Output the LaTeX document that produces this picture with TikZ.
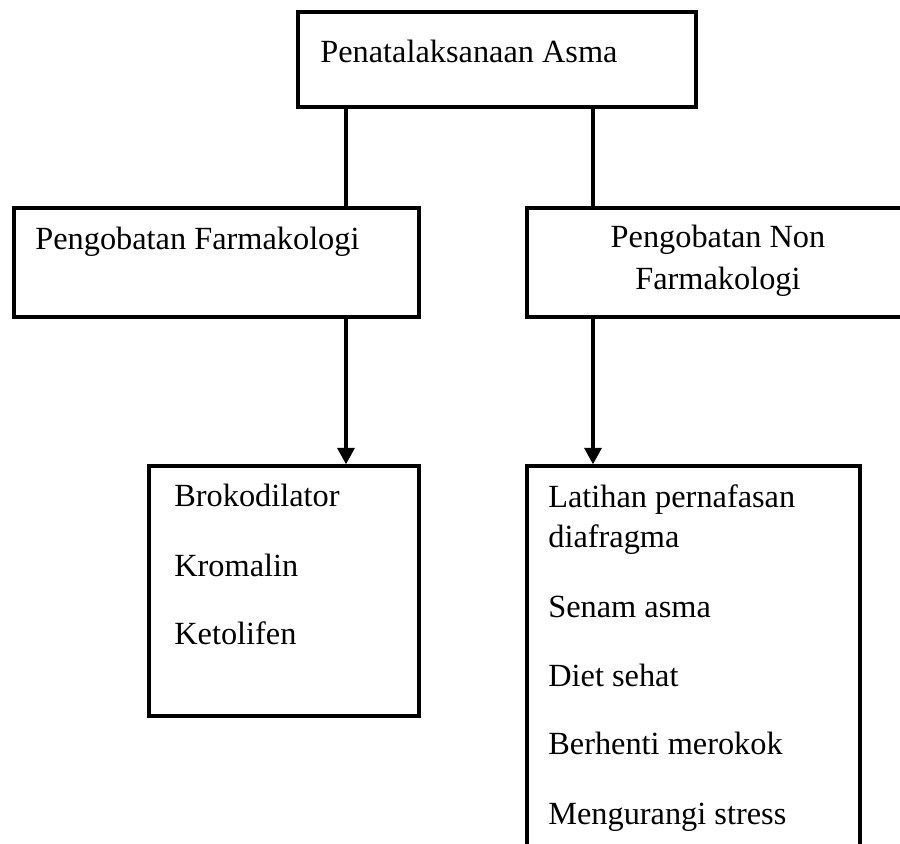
\documentclass[tikz,border=0pt]{standalone}
\usepackage{fontspec}
\setmainfont{Liberation Serif}
\usetikzlibrary{arrows.meta}
\tikzset{
  kotak/.style={draw, line width=1.9pt, inner sep=0pt},
  garis/.style={line width=1.9pt},
  panah/.style={line width=1.9pt, -{Triangle[length=0.33cm,width=0.34cm]}},
  teks/.style={anchor=base west, inner sep=0pt, font=\fontsize{18.4}{22}\selectfont},
  tengah/.style={anchor=base, inner sep=0pt, font=\fontsize{18.4}{22}\selectfont}
}
\begin{document}
\begin{tikzpicture}
\clip (0,0) rectangle (18,16.88);
\fill[white] (0,0) rectangle (18,16.88);
% kotak
\node[kotak, minimum width=7.96cm, minimum height=1.9cm] (asma) at (9.94,15.69) {};
\node[kotak, minimum width=8.1cm, minimum height=2.18cm] (farm) at (4.33,11.63) {};
\node[kotak, minimum width=7.66cm, minimum height=2.18cm] (nonfarm) at (14.37,11.63) {};
\node[kotak, minimum width=5.4cm, minimum height=5cm] (obat) at (5.68,5.06) {};
\node[kotak, minimum width=6.66cm, minimum height=8.1cm] (latihan) at (13.87,3.51) {};
% teks
\node[teks] (tasma) at (6.40,15.62) {Penatalaksanaan Asma};
\node[teks] (tfarm) at (0.70,11.88) {Pengobatan Farmakologi};
\node[tengah] (tnon1) at (14.36,11.92) {Pengobatan Non};
\node[tengah] (tnon2) at (14.36,11.08) {Farmakologi};
\node[teks] (o1) at (3.48,6.74) {Brokodilator};
\node[teks] (o2) at (3.48,5.34) {Kromalin};
\node[teks] (o3) at (3.48,3.98) {Ketolifen};
\node[teks] (l1) at (10.96,6.73) {Latihan pernafasan};
\node[teks] (l2) at (10.96,5.92) {diafragma};
\node[teks] (l3) at (10.96,4.52) {Senam asma};
\node[teks] (l4) at (10.96,3.14) {Diet sehat};
\node[teks] (l5) at (10.96,1.78) {Berhenti merokok};
\node[teks] (l6) at (10.96,0.38) {Mengurangi stress};
% garis
\coordinate (kiri) at (6.92,0);
\coordinate (kanan) at (11.86,0);
\draw[garis] (asma.south -| kiri) -- (farm.north -| kiri);
\draw[garis] (asma.south -| kanan) -- (nonfarm.north -| kanan);
\draw[panah] (farm.south -| kiri) -- (obat.north -| kiri);
\draw[panah] (nonfarm.south -| kanan) -- (latihan.north -| kanan);
\end{tikzpicture}
\end{document}
